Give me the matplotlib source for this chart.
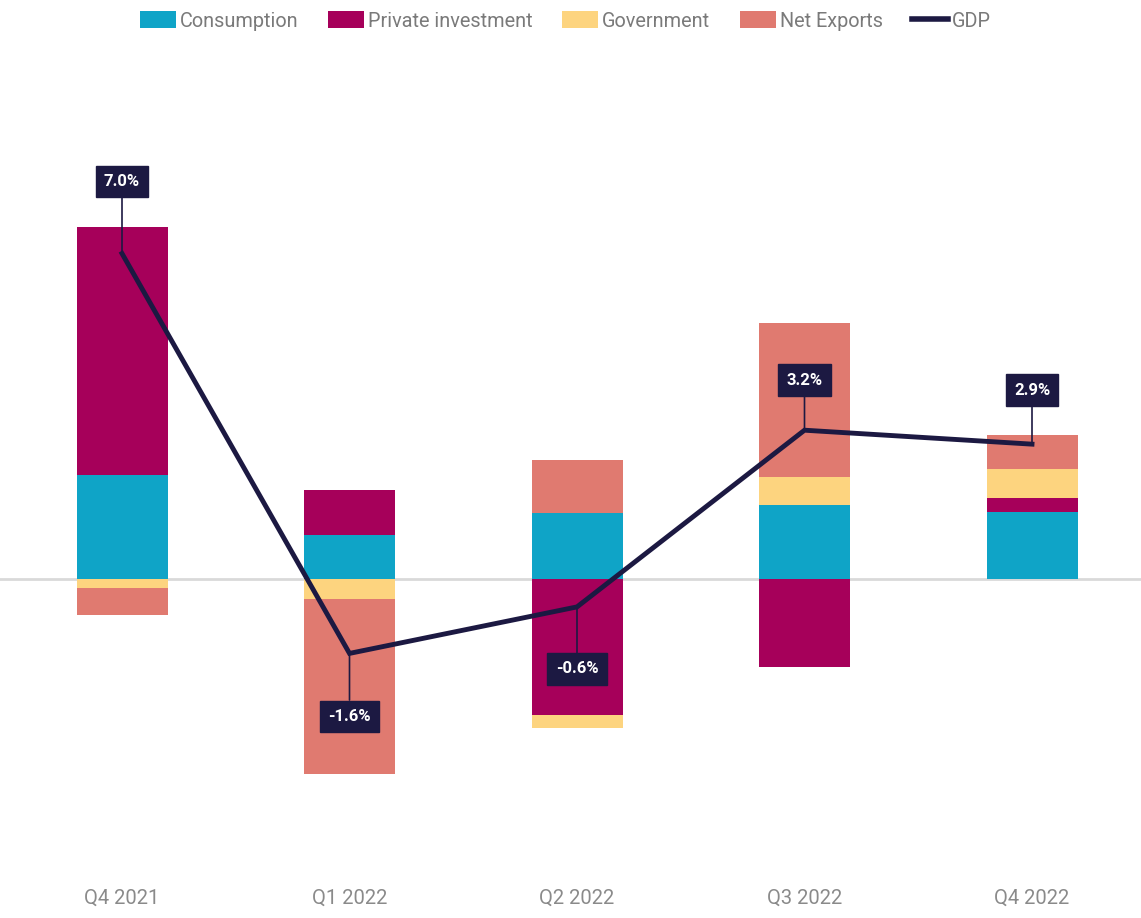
import matplotlib
matplotlib.use("Agg")
import matplotlib.pyplot as plt
from matplotlib.patches import Patch
from matplotlib.lines import Line2D
import numpy as np

quarters = ["Q4 2021", "Q1 2022", "Q2 2022", "Q3 2022", "Q4 2022"]
consumption = [2.24, 0.95, 1.42, 1.59, 1.44]
private_investment = [5.33, 0.97, -2.92, -1.89, 0.30]
government = [-0.20, -0.43, -0.28, 0.60, 0.62]
net_exports = [-0.58, -3.76, 1.14, 3.31, 0.73]
gdp = [7.0, -1.6, -0.6, 3.2, 2.9]
gdp_labels = ["7.0%", "-1.6%", "-0.6%", "3.2%", "2.9%"]

series_names = ["Consumption", "Private investment", "Government", "Net Exports"]
colors = ["#0fa4c7", "#a6005a", "#fdd47f", "#e07a70"]
navy = "#1c1942"

FONT = ["Roboto", "DejaVu Sans"]
plt.rcParams["font.family"] = FONT

W, H = 1141, 918
fig = plt.figure(figsize=(W / 100, H / 100), dpi=100)
ax_top_px, ax_bot_px = 60, 860
ax = fig.add_axes([0, (H - ax_bot_px) / H, 1, (ax_bot_px - ax_top_px) / H])

pxpp = 46.5
zero_px = 579
ax.set_ylim(-(ax_bot_px - zero_px) / pxpp, (zero_px - ax_top_px) / pxpp)
spacing = 227.5
a = -122 / spacing
ax.set_xlim(a, a + W / spacing)

x = np.arange(len(quarters))
ax.axhline(0, color="#d9d9d9", lw=2, zorder=0)

pos_base = np.zeros(len(x))
neg_base = np.zeros(len(x))
for vals, col in zip([consumption, private_investment, government, net_exports], colors):
    vals = np.array(vals)
    bottoms = np.where(vals >= 0, pos_base, neg_base)
    ax.bar(x, vals, width=0.4, bottom=bottoms, color=col, zorder=2)
    pos_base = pos_base + np.where(vals >= 0, vals, 0)
    neg_base = neg_base + np.where(vals < 0, vals, 0)

ax.plot(x, gdp, color=navy, lw=3.5, zorder=4, solid_joinstyle="miter")

offsets_px = [-72, 63, 62, -50, -54]
for xi, yi, lab, off in zip(x, gdp, gdp_labels, offsets_px):
    ax.annotate(lab, xy=(xi, yi), xytext=(0, -off * 0.72), textcoords="offset points",
                ha="center", va="center", color="white", fontsize=12, fontweight="bold",
                bbox=dict(boxstyle="square,pad=0.5", fc=navy, ec=navy),
                arrowprops=dict(arrowstyle="-", color=navy, lw=1.2, shrinkA=0, shrinkB=0),
                zorder=5)

ax.set_xticks(x)
ax.set_xticklabels(quarters, fontsize=14.5, color="#8a8a8a")
ax.tick_params(axis="x", length=0, pad=21)
ax.set_yticks([])
for s in ax.spines.values():
    s.set_visible(False)

handles = [Patch(facecolor=c, edgecolor="none") for c in colors]
handles.append(Line2D([0], [0], color=navy, lw=4))
fig.legend(handles, series_names + ["GDP"], loc="center", bbox_to_anchor=(0.4956, 1 - 21 / H),
           ncol=5, frameon=False, fontsize=14.3, labelcolor="#7a7a7a",
           handlelength=1.8, handleheight=0.9, handletextpad=0.2, columnspacing=1.5)

fig.savefig("out.png", dpi=100)
